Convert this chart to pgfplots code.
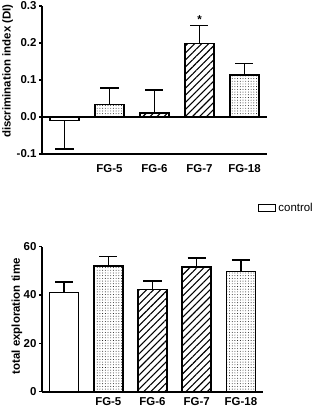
\documentclass[border=0pt]{standalone}
\usepackage{fontspec}
\setmainfont{Liberation Sans}
\usepackage{pgfplots}
\pgfplotsset{compat=1.18}
\usetikzlibrary{patterns.meta}

\newcommand{\lblfont}{\bfseries\fontsize{11.5}{13}\selectfont}

\tikzset{
  dotfill/.style={pattern={Dots[distance=2.7bp, radius=0.45bp]}, pattern color=black},
  hatchfill/.style={pattern={Lines[angle=45, distance=5bp, line width=1.1bp]}, pattern color=black},
}

\pgfplotsset{
  dibar/.style={ybar, bar width=29bp, bar shift=0pt, draw=black, line width=1.5bp,
    error bars/y explicit, error bars/y dir=#1,
    error bars/error bar style={line width=1.5bp, black},
    error bars/error mark options={rotate=90, mark size=9bp, line width=1.5bp, black}},
  panel/.style={
    scale only axis, anchor=south west,
    axis x line=bottom, axis y line=left,
    axis line style={-, line width=1.6bp},
    xmin=-0.5, xmax=4.5,
    xtick={1,2,3,4}, xticklabels={FG-5,FG-6,FG-7,FG-18},
    x tick style={draw=none},
    y tick style={black, line width=1.5bp},
    tick align=outside, major tick length=3bp,
    /pgf/number format/assume math mode=true,
    ticklabel style={font=\lblfont},
    yticklabel style={xshift=1bp},
    ylabel style={font=\lblfont, anchor=center},
  },
}

\begin{document}
\begin{tikzpicture}
\useasboundingbox (0,0) rectangle (319bp,408bp);

% discrimination index
\begin{axis}[panel,
  at={(42bp,254bp)}, width=225bp, height=148bp,
  ymin=-0.1, ymax=0.3,
  ytick={-0.1,0,0.1,0.2,0.3}, yticklabels={-0.1,0.0,0.1,0.2,0.3},
  extra y ticks={0}, extra y tick labels={},
  extra y tick style={grid=major, major grid style={black, line width=1.6bp}, major tick length=0pt},
  xticklabel style={yshift=-4bp},
  ylabel={discrimination index (DI)},
  ylabel style={at={(axis description cs:-0.153,0.56)}},
]
\addplot[dibar=minus, fill=white] coordinates {(0,-0.010) +- (0,0.076)};
\addplot[dibar=plus, dotfill]   coordinates {(1,0.034) +- (0,0.044)};
\addplot[dibar=plus, hatchfill] coordinates {(2,0.011) +- (0,0.062)};
\addplot[dibar=plus, hatchfill] coordinates {(3,0.199) +- (0,0.048)};
\addplot[dibar=plus, dotfill]   coordinates {(4,0.113) +- (0,0.031)};
\node[font=\lblfont] at (axis cs:3,0.262) {*};
\end{axis}

% total exploration time
\begin{axis}[panel,
  at={(42bp,16.3bp)}, width=221bp, height=145bp,
  ymin=0, ymax=60,
  ytick={0,20,40,60},
  xticklabel style={yshift=1bp},
  ylabel={total exploration time},
  ylabel style={at={(axis description cs:-0.113,0.52)}},
  legend style={draw=none, fill=none, inner sep=0pt, at={(0.977,1.267)}, anchor=west,
    font=\fontsize{11.5}{13}\selectfont},
  legend cell align=left,
]
\addplot[dibar=plus, fill=white,
  legend image code/.code={\draw[line width=1.3bp, fill=white] (0bp,-3.5bp) rectangle (17bp,3.5bp);}]
  coordinates {(0,41.1) +- (0,4.3)};
\addlegendentry{control}
\addplot[dibar=plus, dotfill, forget plot]   coordinates {(1,52.0) +- (0,4.0)};
\addplot[dibar=plus, hatchfill, forget plot] coordinates {(2,42.2) +- (0,3.7)};
\addplot[dibar=plus, hatchfill, forget plot] coordinates {(3,51.6) +- (0,3.7)};
\addplot[dibar=plus, dotfill, forget plot]   coordinates {(4,49.8) +- (0,4.8)};
\end{axis}
\end{tikzpicture}
\end{document}
